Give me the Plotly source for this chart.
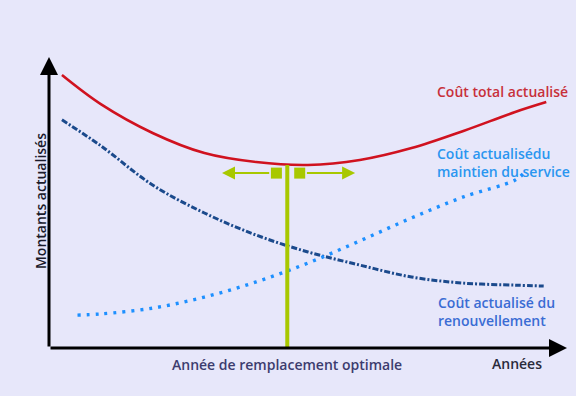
import plotly.graph_objects as go

# --- data (abstract units: years, discounted amounts) ---
years_total = [0.25, 1, 2, 3, 4, 5, 6, 7, 8, 9, 9.6]
cost_total = [93.8, 83.8, 73.9, 67.0, 63.9, 62.9, 64.6, 68.7, 74.6, 81.1, 84.5]

years_renew = [0.25, 1, 2, 3, 4, 5, 6, 7, 8, 9, 9.55]
cost_renew = [78.4, 69.5, 56.0, 46.4, 38.8, 33.0, 28.5, 24.4, 22.3, 21.6, 21.3]

years_maint = [0.55, 1, 2, 3, 4, 5, 6, 7, 8, 9, 9.15]
cost_maint = [11.3, 11.7, 13.7, 17.5, 22.7, 29.2, 36.8, 44.7, 51.9, 57.7, 59.8]

optimal_year = 4.6
optimal_cost = 62.9

BG = "#E7E7FA"
GREEN = "#A8C800"

fig = go.Figure()

fig.add_trace(go.Scatter(x=years_total, y=cost_total, mode="lines",
                         line=dict(color="#D0121F", width=2.6, shape="spline"),
                         hoverinfo="skip"))
fig.add_trace(go.Scatter(x=years_renew, y=cost_renew, mode="lines",
                         line=dict(color="#1B4A8C", width=3, shape="spline",
                                   dash="6px,2px,2px,2px"),
                         hoverinfo="skip"))
fig.add_trace(go.Scatter(x=years_maint, y=cost_maint, mode="lines",
                         line=dict(color="#1E90FF", width=3.4, shape="spline",
                                   dash="3px,6px"),
                         hoverinfo="skip"))

# optimal year vertical line
fig.add_trace(go.Scatter(x=[optimal_year, optimal_year], y=[0, optimal_cost], mode="lines",
                         line=dict(color=GREEN, width=4), hoverinfo="skip"))

# squares beside the optimum
arrow_y = optimal_cost - 2.8
fig.add_trace(go.Scatter(x=[optimal_year - 0.21, optimal_year + 0.24], y=[arrow_y, arrow_y],
                         mode="markers",
                         marker=dict(symbol="square", size=11, color=GREEN),
                         hoverinfo="skip"))

annotations = []
# green horizontal arrows
for x0, x1 in [(optimal_year - 0.32, optimal_year - 1.26), (optimal_year + 0.35, optimal_year + 1.31)]:
    annotations.append(dict(x=x1, y=arrow_y, ax=x0, ay=arrow_y, xref="x", yref="y",
                            axref="x", ayref="y", showarrow=True, arrowhead=2,
                            arrowsize=1.3, arrowwidth=2, arrowcolor=GREEN, text=""))
# axes arrows
annotations.append(dict(x=10, y=0, ax=0, ay=0, xref="x", yref="y", axref="x", ayref="y",
                        showarrow=True, arrowhead=2, arrowsize=1.2, arrowwidth=3,
                        arrowcolor="black", text=""))
annotations.append(dict(x=0, y=100, ax=0, ay=0, xref="x", yref="y", axref="x", ayref="y",
                        showarrow=True, arrowhead=2, arrowsize=1.2, arrowwidth=3,
                        arrowcolor="black", text=""))

FONT = "Open Sans"
annotations += [
    dict(x=7.45, y=88, xref="x", yref="y", text="Coût total actualisé", showarrow=False,
         xanchor="left", font=dict(family=FONT, size=14, color="#C8303A", weight=600)),
    dict(x=7.45, y=63.8, xref="x", yref="y", text="Coût actualisédu<br>maintien du service",
         showarrow=False, xanchor="left", align="left",
         font=dict(family=FONT, size=14, color="#2A96F0", weight=600)),
    dict(x=7.47, y=12.5, xref="x", yref="y", text="Coût actualisé du<br>renouvellement",
         showarrow=False, xanchor="left", align="left",
         font=dict(family=FONT, size=14, color="#3A6CD4", weight=600)),
    dict(x=optimal_year, y=-0.058, xref="x", yref="paper", text="Année de remplacement optimale",
         showarrow=False, xanchor="center", yanchor="middle",
         font=dict(family=FONT, size=14, color="#3C3C6E", weight=600)),
    dict(x=9.03, y=-0.052, xref="x", yref="paper", text="Années",
         showarrow=False, xanchor="center", yanchor="middle",
         font=dict(family=FONT, size=14, color="#2A2A3A", weight=600)),
    dict(x=-0.0174, y=0.505, xref="paper", yref="y domain", text="Montants actualisés",
         textangle=-90, showarrow=False, xanchor="center", yanchor="middle",
         font=dict(family=FONT, size=14, color="#1A1A2A", weight=600)),
]

fig.update_layout(
    width=576, height=396,
    margin=dict(l=49, r=9, t=57, b=48),
    paper_bgcolor=BG, plot_bgcolor=BG,
    showlegend=False,
    xaxis=dict(range=[0, 10], visible=False, fixedrange=True),
    yaxis=dict(range=[0, 100], visible=False, fixedrange=True),
    annotations=annotations,
)

fig.write_html("out.html", config={"displayModeBar": False},
               post_script="document.body.style.margin='0';document.body.style.background='%s';" % BG)
